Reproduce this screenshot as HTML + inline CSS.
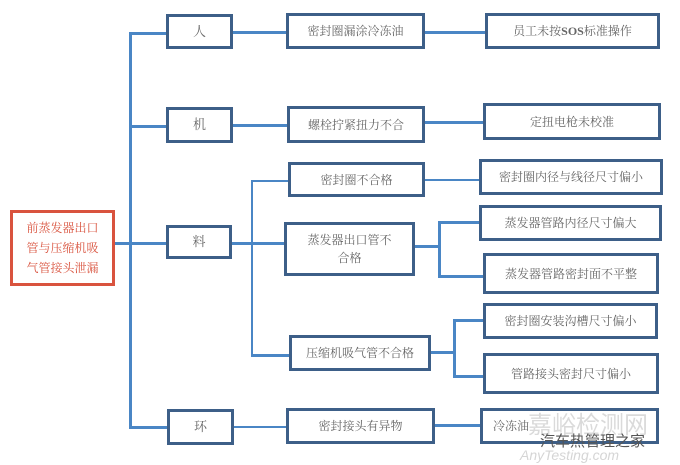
<!DOCTYPE html>
<html><head><meta charset="utf-8"><style>
body{margin:0;background:#fff;width:680px;height:465px;overflow:hidden;position:relative;font-family:"Liberation Serif","Noto Serif CJK SC",serif}
.b{position:absolute;box-sizing:border-box;border:3px solid #3d5f88;background:#fff;display:flex;align-items:center;justify-content:center;text-align:center;font-size:12px;color:#666;line-height:18px}
.l{position:absolute;background:#4a86c5}
</style></head><body>
<!-- lines -->
<div class="l" style="left:115px;top:242px;width:52px;height:3px"></div>
<div class="l" style="left:129px;top:32px;width:3px;height:397px"></div>
<div class="l" style="left:129px;top:32px;width:38px;height:3px"></div>
<div class="l" style="left:129px;top:125px;width:38px;height:3px"></div>
<div class="l" style="left:129px;top:426px;width:38px;height:3px"></div>
<div class="l" style="left:232px;top:31px;width:55px;height:3px"></div>
<div class="l" style="left:232px;top:124px;width:55px;height:3px"></div>
<div class="l" style="left:232px;top:242px;width:53px;height:3px"></div>
<div class="l" style="left:233px;top:426px;width:54px;height:2px"></div>
<div class="l" style="left:251px;top:180px;width:2px;height:176px"></div>
<div class="l" style="left:251px;top:180px;width:37px;height:2px"></div>
<div class="l" style="left:251px;top:354px;width:38px;height:3px"></div>
<div class="l" style="left:424px;top:31px;width:61px;height:3px"></div>
<div class="l" style="left:424px;top:121px;width:60px;height:3px"></div>
<div class="l" style="left:424px;top:179px;width:56px;height:2px"></div>
<div class="l" style="left:414px;top:245px;width:26px;height:3px"></div>
<div class="l" style="left:438px;top:221px;width:3px;height:57px"></div>
<div class="l" style="left:438px;top:221px;width:42px;height:3px"></div>
<div class="l" style="left:438px;top:275px;width:46px;height:3px"></div>
<div class="l" style="left:430px;top:351px;width:26px;height:3px"></div>
<div class="l" style="left:453px;top:319px;width:3px;height:59px"></div>
<div class="l" style="left:453px;top:319px;width:31px;height:3px"></div>
<div class="l" style="left:453px;top:375px;width:31px;height:3px"></div>
<div class="l" style="left:434px;top:424px;width:47px;height:3px"></div>
<!-- root -->
<div class="b" style="left:10px;top:210px;width:105px;height:76px;border-color:#d9533e;color:#d9533e;font-size:12px;line-height:20px">前蒸发器出口<br>管与压缩机吸<br>气管接头泄漏</div>
<!-- level1 -->
<div class="b" style="left:166px;top:14px;width:67px;height:35px;font-size:13px">人</div>
<div class="b" style="left:166px;top:107px;width:67px;height:36px;font-size:13px">机</div>
<div class="b" style="left:166px;top:225px;width:66px;height:34px;font-size:13px">料</div>
<div class="b" style="left:167px;top:409px;width:67px;height:36px;font-size:13px">环</div>
<!-- level2 -->
<div class="b" style="left:286px;top:13px;width:139px;height:36px">密封圈漏涂冷冻油</div>
<div class="b" style="left:287px;top:106px;width:138px;height:37px">螺栓拧紧扭力不合</div>
<div class="b" style="left:288px;top:162px;width:137px;height:35px">密封圈不合格</div>
<div class="b" style="left:284px;top:222px;width:131px;height:54px">蒸发器出口管不<br>合格</div>
<div class="b" style="left:289px;top:335px;width:142px;height:36px">压缩机吸气管不合格</div>
<div class="b" style="left:286px;top:408px;width:149px;height:36px">密封接头有异物</div>
<!-- level3 -->
<div class="b" style="left:485px;top:13px;width:175px;height:36px">员工未按 <b>SOS</b> 标准操作</div>
<div class="b" style="left:483px;top:103px;width:178px;height:37px">定扭电枪未校准</div>
<div class="b" style="left:479px;top:159px;width:184px;height:36px">密封圈内径与线径尺寸偏小</div>
<div class="b" style="left:479px;top:205px;width:183px;height:36px">蒸发器管路内径尺寸偏大</div>
<div class="b" style="left:483px;top:253px;width:176px;height:41px">蒸发器管路密封面不平整</div>
<div class="b" style="left:483px;top:303px;width:175px;height:36px">密封圈安装沟槽尺寸偏小</div>
<div class="b" style="left:483px;top:353px;width:176px;height:41px">管路接头密封尺寸偏小</div>
<div class="b" style="left:480px;top:408px;width:179px;height:36px;justify-content:flex-start;padding-left:10px">冷冻油</div>
<div style="position:absolute;left:528px;top:405px;font-size:24px;color:rgba(150,150,150,0.35);font-family:'Noto Sans CJK SC',sans-serif">嘉峪检测网</div>
<div style="position:absolute;left:540px;top:430px;font-size:15px;color:#555;font-family:'Noto Sans CJK SC',sans-serif">汽车热管理之家</div>
<div style="position:absolute;left:520px;top:447px;font-size:14px;color:rgba(150,150,150,0.4);font-style:italic;font-family:'Liberation Sans',sans-serif">AnyTesting.com</div>
</body></html>
